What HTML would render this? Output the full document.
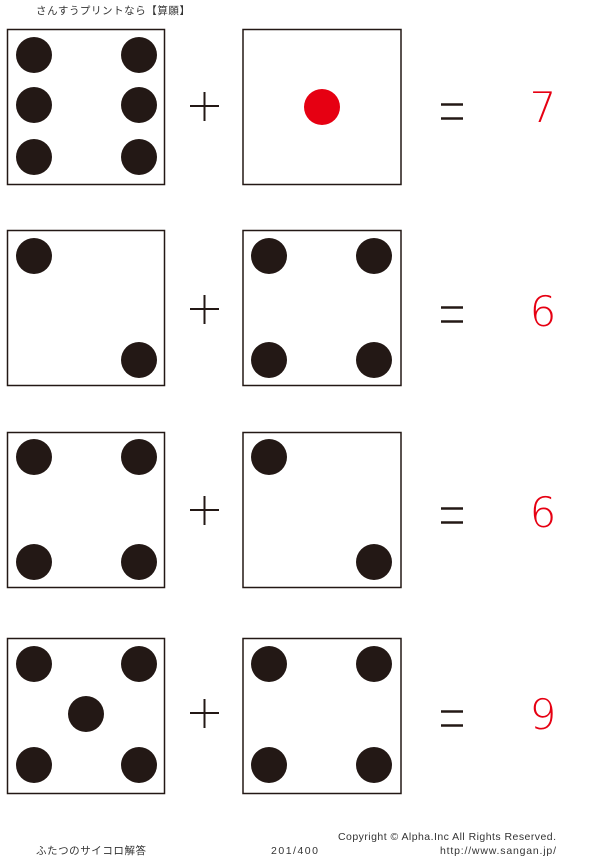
<!DOCTYPE html>
<html><head><meta charset="utf-8"><style>
body{margin:0;background:#fff;}
svg{display:block;}
text{font-family:"Liberation Sans","Noto Sans CJK JP",sans-serif;}
.d{font-family:"DejaVu Sans","Liberation Sans",sans-serif;font-weight:200;}
</style></head><body>
<svg width="600" height="859" viewBox="0 0 600 859" xmlns="http://www.w3.org/2000/svg">
<text x="36" y="14" font-size="10.5" fill="#333" textLength="154">さんすうプリントなら【算願】</text>
<g fill="none" stroke="#231815" stroke-width="1.5">
<rect x="7.5" y="29.5" width="157" height="155"/><rect x="243" y="29.5" width="158" height="155"/>
<rect x="7.5" y="230.5" width="157" height="155"/><rect x="243" y="230.5" width="158" height="155"/>
<rect x="7.5" y="432.5" width="157" height="155"/><rect x="243" y="432.5" width="158" height="155"/>
<rect x="7.5" y="638.5" width="157" height="155"/><rect x="243" y="638.5" width="158" height="155"/>
</g>
<g fill="#231815">
<circle cx="34" cy="55" r="18"/><circle cx="139" cy="55" r="18"/>
<circle cx="34" cy="105" r="18"/><circle cx="139" cy="105" r="18"/>
<circle cx="34" cy="157" r="18"/><circle cx="139" cy="157" r="18"/>
<circle cx="34" cy="256" r="18"/><circle cx="139" cy="360" r="18"/>
<circle cx="269" cy="256" r="18"/><circle cx="374" cy="256" r="18"/>
<circle cx="269" cy="360" r="18"/><circle cx="374" cy="360" r="18"/>
<circle cx="34" cy="457" r="18"/><circle cx="139" cy="457" r="18"/>
<circle cx="34" cy="562" r="18"/><circle cx="139" cy="562" r="18"/>
<circle cx="269" cy="457" r="18"/><circle cx="374" cy="562" r="18"/>
<circle cx="34" cy="664" r="18"/><circle cx="139" cy="664" r="18"/>
<circle cx="86" cy="714" r="18"/>
<circle cx="34" cy="765" r="18"/><circle cx="139" cy="765" r="18"/>
<circle cx="269" cy="664" r="18"/><circle cx="374" cy="664" r="18"/>
<circle cx="269" cy="765" r="18"/><circle cx="374" cy="765" r="18"/>
</g>
<circle cx="322" cy="107" r="18" fill="#e60012"/>
<g stroke="#231815" stroke-width="2">
<path d="M190 106H219M204.5 92V121"/>
<path d="M190 309H219M204.5 295V324"/>
<path d="M190 510H219M204.5 496V525"/>
<path d="M190 713H219M204.5 699V728"/>
</g>
<g stroke="#231815" stroke-width="2.5">
<path d="M441 104.5H463M441 118.5H463"/>
<path d="M441 307.5H463M441 321.5H463"/>
<path d="M441 508.5H463M441 522.5H463"/>
<path d="M441 711.5H463M441 725.5H463"/>
</g>
<g fill="#e60012" font-size="42" text-anchor="middle" class="d">
<text class="d" x="543" y="122">7</text>
<text class="d" x="543" y="326">6</text>
<text class="d" x="543" y="527">6</text>
<text class="d" x="543" y="729">9</text>
</g>
<text x="338" y="840" font-size="10.5" fill="#333" textLength="218">Copyright ©  Alpha.Inc All Rights Reserved.</text>
<text x="36" y="854" font-size="10.5" fill="#333" textLength="110">ふたつのサイコロ解答</text>
<text x="271" y="854" font-size="10.5" fill="#333" textLength="47">201/400</text>
<text x="440" y="854" font-size="10.5" fill="#333" textLength="116">http://www.sangan.jp/</text>
</svg>
</body></html>
